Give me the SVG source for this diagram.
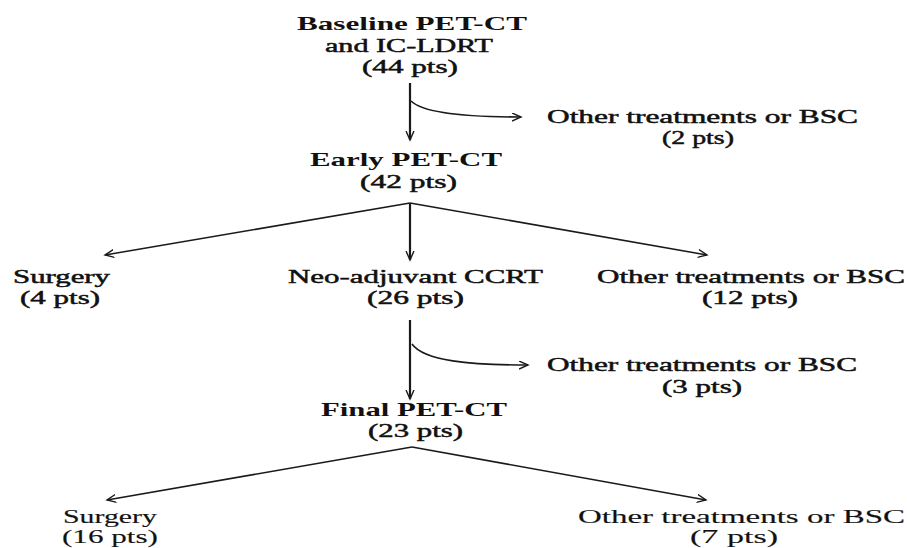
<svg xmlns="http://www.w3.org/2000/svg" width="907" height="548" viewBox="0 0 907 548">
  <style>
    text { font-family: "Liberation Serif", "Times New Roman", serif; font-size: 19.5px; fill: #111; }
    .head { font-weight: bold; }
    .heavy { stroke: #111; stroke-width: 0.5; }
    .light { stroke: #222; stroke-width: 0.15; }
    .edge { fill: none; stroke: #1a1a1a; stroke-width: 1.6; }
    .stem { fill: none; stroke: #1a1a1a; stroke-width: 2.2; }
  </style>
  <defs>
    <marker id="arrow" markerUnits="userSpaceOnUse" markerWidth="12" markerHeight="12" refX="9" refY="4.5" orient="auto">
      <path d="M0,0.5 L9,4.5 L0,8.5" fill="none" stroke="#1a1a1a" stroke-width="1.4"/>
    </marker>
  </defs>
  <rect width="907" height="548" fill="#ffffff"/>

  <g id="connectors">
    <!-- baseline -> early, with side exit -->
    <path class="stem" d="M410,83 V140" marker-end="url(#arrow)"/>
    <path class="edge" d="M411,101 C424,114 470,117 521,117" marker-end="url(#arrow)"/>
    <!-- early -> three branches -->
    <path class="stem" d="M410,203 V260" marker-end="url(#arrow)"/>
    <path class="edge" d="M410,203 L105,255" marker-end="url(#arrow)"/>
    <path class="edge" d="M410,203 L707,255" marker-end="url(#arrow)"/>
    <!-- neo-adjuvant -> final, with side exit -->
    <path class="stem" d="M410,320 V399" marker-end="url(#arrow)"/>
    <path class="edge" d="M412,344 C424,361 470,365 528,365" marker-end="url(#arrow)"/>
    <!-- final -> two branches -->
    <path class="edge" d="M412,447 L107,500" marker-end="url(#arrow)"/>
    <path class="edge" d="M412,447 L706,500" marker-end="url(#arrow)"/>
  </g>

  <g id="baseline">
    <text class="head" x="297" y="30" textLength="230" lengthAdjust="spacingAndGlyphs">Baseline PET-CT</text>
    <text class="heavy" x="325" y="52" textLength="168" lengthAdjust="spacingAndGlyphs">and IC-LDRT</text>
    <text class="heavy" x="362" y="73" textLength="96" lengthAdjust="spacingAndGlyphs">(44 pts)</text>
  </g>

  <g id="other1">
    <text class="heavy" x="547" y="123" textLength="311" lengthAdjust="spacingAndGlyphs">Other treatments or BSC</text>
    <text class="heavy" x="662" y="144" textLength="72" lengthAdjust="spacingAndGlyphs">(2 pts)</text>
  </g>

  <g id="early">
    <text class="head" x="310" y="166" textLength="192" lengthAdjust="spacingAndGlyphs">Early PET-CT</text>
    <text class="heavy" x="360" y="188" textLength="97" lengthAdjust="spacingAndGlyphs">(42 pts)</text>
  </g>

  <g id="surgery1">
    <text class="heavy" x="13" y="283" textLength="97" lengthAdjust="spacingAndGlyphs">Surgery</text>
    <text class="heavy" x="20" y="304" textLength="80" lengthAdjust="spacingAndGlyphs">(4 pts)</text>
  </g>

  <g id="neoadjuvant">
    <text class="heavy" x="288" y="283" textLength="255" lengthAdjust="spacingAndGlyphs">Neo-adjuvant CCRT</text>
    <text class="heavy" x="367" y="304" textLength="97" lengthAdjust="spacingAndGlyphs">(26 pts)</text>
  </g>

  <g id="other2">
    <text class="heavy" x="597" y="283" textLength="308" lengthAdjust="spacingAndGlyphs">Other treatments or BSC</text>
    <text class="heavy" x="702" y="304" textLength="96" lengthAdjust="spacingAndGlyphs">(12 pts)</text>
  </g>

  <g id="other3">
    <text class="heavy" x="547" y="371" textLength="310" lengthAdjust="spacingAndGlyphs">Other treatments or BSC</text>
    <text class="heavy" x="662" y="393" textLength="80" lengthAdjust="spacingAndGlyphs">(3 pts)</text>
  </g>

  <g id="final">
    <text class="head" x="321" y="416" textLength="186" lengthAdjust="spacingAndGlyphs">Final PET-CT</text>
    <text class="heavy" x="368" y="437" textLength="95" lengthAdjust="spacingAndGlyphs">(23 pts)</text>
  </g>

  <g id="surgery2">
    <text class="light" x="63" y="523" textLength="94" lengthAdjust="spacingAndGlyphs">Surgery</text>
    <text class="light" x="62" y="543" textLength="96" lengthAdjust="spacingAndGlyphs">(16 pts)</text>
  </g>

  <g id="other4">
    <text class="light" x="578" y="523" textLength="327" lengthAdjust="spacingAndGlyphs">Other treatments or BSC</text>
    <text class="light" x="690" y="543" textLength="88" lengthAdjust="spacingAndGlyphs">(7 pts)</text>
  </g>
</svg>
